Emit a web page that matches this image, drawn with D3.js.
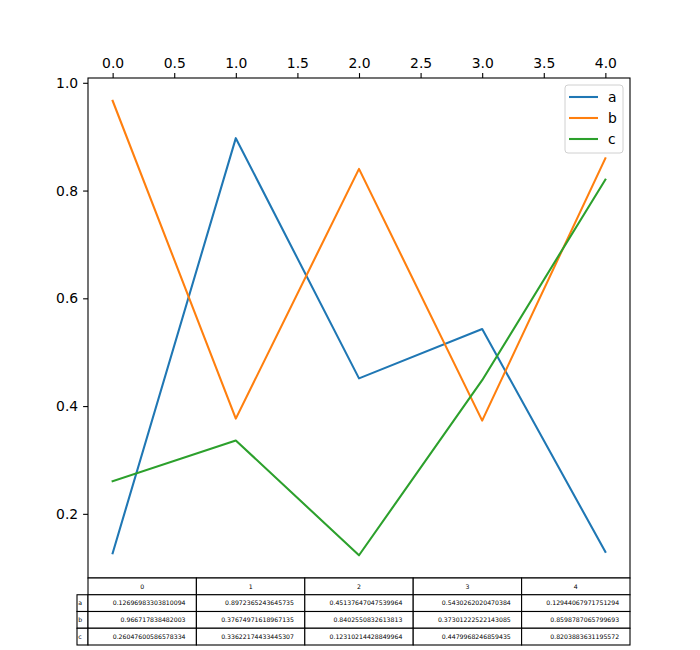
<!DOCTYPE html>
<html>
<head>
<meta charset="utf-8">
<script src="https://cdn.jsdelivr.net/npm/d3@7"></script>
<style>
  body { margin: 0; background: white; }
  svg { font-family: "DejaVu Sans", sans-serif; }
</style>
</head>
<body>
<svg id="chart" width="700" height="650"></svg>
<script>
const COLUMNS = ["0", "1", "2", "3", "4"];
const SERIES = ["a", "b", "c"];
const A_VALUES = [0.12696983303810094, 0.8972365243645735, 0.45137647047539964, 0.5430262020470384, 0.12944067971751294];
const B_VALUES = [0.966717838482003, 0.37674971618967135, 0.8402550832613813, 0.37301222522143085, 0.8598787065799693];
const C_VALUES = [0.26047600586578334, 0.33622174433445307, 0.12310214428849964, 0.4479968246859435, 0.8203883631195572];
const X_TICKS = [0, 0.5, 1, 1.5, 2, 2.5, 3, 3.5, 4];
const Y_TICKS = [0.2, 0.4, 0.6, 0.8, 1.0];
const COLORS = ["#1f77b4", "#ff7f0e", "#2ca02c"];

const BOX = {left: 88, top: 78, right: 630, bottom: 578};
const ROW_H = 16.75;
const LABEL_W = 11;

const svg = d3.select("#chart");
const rows = [A_VALUES, B_VALUES, C_VALUES];

// Scales with matplotlib-style 5% margins
const xScale = d3.scaleLinear().domain([-0.2, 4.2]).range([BOX.left, BOX.right]);
const allValues = rows.flat();
const yMin = d3.min(allValues), yMax = d3.max(allValues);
const yPad = (yMax - yMin) * 0.05;
const yScale = d3.scaleLinear().domain([yMin - yPad, yMax + yPad]).range([BOX.bottom, BOX.top]);

// Lines
const line = d3.line().x((d, i) => xScale(i)).y((d) => yScale(d));
svg.append("g")
  .selectAll("path")
  .data(rows)
  .enter()
  .append("path")
  .attr("d", (d) => line(d))
  .attr("fill", "none")
  .attr("stroke", (d, i) => COLORS[i])
  .attr("stroke-width", 2.08)
  .attr("stroke-linejoin", "round")
  .attr("stroke-linecap", "square");

// Spines
svg.append("rect")
  .attr("x", BOX.left).attr("y", BOX.top)
  .attr("width", BOX.right - BOX.left).attr("height", BOX.bottom - BOX.top)
  .attr("fill", "none").attr("stroke", "black").attr("stroke-width", 1.1);

// Top axis
const topAxis = svg.append("g")
  .attr("transform", `translate(0, ${BOX.top})`)
  .call(d3.axisTop(xScale).tickValues(X_TICKS).tickFormat(d3.format(".1f")).tickSize(4.9).tickPadding(4.9));
topAxis.select(".domain").remove();
topAxis.selectAll("text").attr("font-size", 13.9).attr("font-family", "DejaVu Sans").attr("fill", "black");
topAxis.selectAll("line").attr("stroke-width", 1.1);

// Left axis
const leftAxis = svg.append("g")
  .attr("transform", `translate(${BOX.left}, 0)`)
  .call(d3.axisLeft(yScale).tickValues(Y_TICKS).tickFormat(d3.format(".1f")).tickSize(4.9).tickPadding(4.9));
leftAxis.select(".domain").remove();
leftAxis.selectAll("text").attr("font-size", 13.9).attr("font-family", "DejaVu Sans").attr("fill", "black");
leftAxis.selectAll("line").attr("stroke-width", 1.1);

// Legend
const legend = svg.append("g").attr("transform", "translate(565, 85)");
legend.append("rect")
  .attr("width", 58).attr("height", 68).attr("rx", 3)
  .attr("fill", "white").attr("fill-opacity", 0.8)
  .attr("stroke", "#d0d0d0").attr("stroke-width", 1);
SERIES.forEach((name, i) => {
  const y = 12 + i * 21;
  legend.append("line")
    .attr("x1", 4).attr("x2", 33).attr("y1", y).attr("y2", y)
    .attr("stroke", COLORS[i]).attr("stroke-width", 2.08);
  legend.append("text")
    .attr("x", 43).attr("y", y).attr("dy", "0.35em")
    .attr("font-size", 13.9).text(name);
});

// Table under the axes
const colScale = d3.scaleBand().domain(COLUMNS).range([BOX.left, BOX.right]);
const table = svg.append("g").attr("font-size", 6.2);

// Header
COLUMNS.forEach((col) => {
  table.append("rect")
    .attr("x", colScale(col)).attr("y", BOX.bottom)
    .attr("width", colScale.bandwidth()).attr("height", ROW_H)
    .attr("fill", "white").attr("stroke", "black").attr("stroke-width", 1.1);
  table.append("text")
    .attr("x", colScale(col) + colScale.bandwidth() / 2).attr("y", BOX.bottom + ROW_H / 2)
    .attr("dy", "0.35em").attr("text-anchor", "middle").text(col);
});

// Body rows
rows.forEach((vals, r) => {
  const y = BOX.bottom + ROW_H * (r + 1);
  table.append("rect")
    .attr("x", BOX.left - LABEL_W).attr("y", y)
    .attr("width", LABEL_W).attr("height", ROW_H)
    .attr("fill", "white").attr("stroke", "black").attr("stroke-width", 1.1);
  table.append("text")
    .attr("x", BOX.left - LABEL_W + 1.2).attr("y", y + ROW_H / 2)
    .attr("dy", "0.35em").text(SERIES[r]);
  vals.forEach((v, c) => {
    const x = colScale(COLUMNS[c]);
    table.append("rect")
      .attr("x", x).attr("y", y)
      .attr("width", colScale.bandwidth()).attr("height", ROW_H)
      .attr("fill", "white").attr("stroke", "black").attr("stroke-width", 1.1);
    table.append("text")
      .attr("x", x + colScale.bandwidth() * 0.9).attr("y", y + ROW_H / 2)
      .attr("dy", "0.35em").attr("text-anchor", "end").text(String(v));
  });
});
</script>
</body>
</html>
